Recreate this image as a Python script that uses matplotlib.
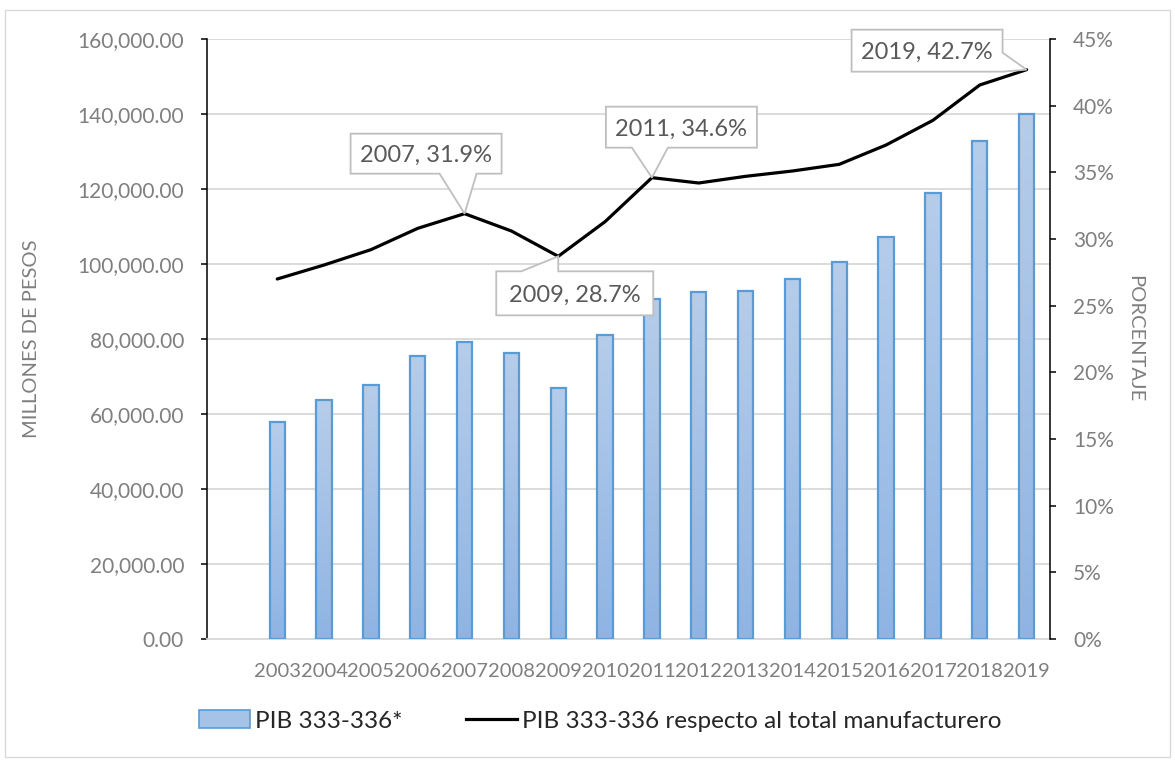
import numpy as np
import matplotlib
matplotlib.use("Agg")
import matplotlib.pyplot as plt
import matplotlib.transforms as mtransforms
from matplotlib.patches import Polygon, Rectangle, Patch
from matplotlib.lines import Line2D
from matplotlib.colors import LinearSegmentedColormap
from matplotlib.ticker import FuncFormatter, MultipleLocator

# ---- data -------------------------------------------------------------
years = ["2003", "2004", "2005", "2006", "2007", "2008", "2009", "2010", "2011",
         "2012", "2013", "2014", "2015", "2016", "2017", "2018", "2019"]
pib_333_336 = [57900, 63700, 67700, 75500, 79200, 76300, 66900, 81100, 90700,
               92500, 92800, 95900, 100600, 107300, 118900, 132800, 139900]
share_pct = [27.0, 28.05, 29.2, 30.8, 31.9, 30.6, 28.7, 31.3, 34.6,
             34.2, 34.7, 35.1, 35.6, 37.05, 38.9, 41.55, 42.7]
callout_years = ["2007", "2009", "2011", "2019"]

bar_label = "PIB 333-336*"
line_label = "PIB 333-336 respecto al total manufacturero"
left_title = "MILLONES DE PESOS"
right_title = "PORCENTAJE"

# ---- style ------------------------------------------------------------
plt.rcParams["font.family"] = ["Lato", "DejaVu Sans"]
GRAY_TXT = "#7f7f7f"
GRID = "#d9d9d9"
BAR_EDGE = "#5b9bd5"

W, H = 1175, 762
fig = plt.figure(figsize=(W / 100, H / 100), dpi=100)
ax = fig.add_axes([207 / W, 1 - 639 / H, 843 / W, 600 / H])
ax2 = ax.twinx()

# category slots: one empty slot before the first year
x = np.arange(1, len(years) + 1)

# ---- bars with vertical gradient fill --------------------------------
bars = ax.bar(x, pib_333_336, width=0.33, facecolor="none",
              edgecolor=BAR_EDGE, linewidth=1.6, zorder=3)
fill_cmap = LinearSegmentedColormap.from_list("barfill", ["#8fb4e3", "#b6cdea"])
grad = np.linspace(0, 1, 256).reshape(-1, 1)
for b in bars:
    x0, y0, bw, bh = b.get_x(), b.get_y(), b.get_width(), b.get_height()
    im = ax.imshow(grad, cmap=fill_cmap, origin="lower", aspect="auto",
                   extent=(x0, x0 + bw, y0, y0 + bh), zorder=2,
                   interpolation="bilinear")
    im.set_clip_path(b)

# ---- share line -------------------------------------------------------
ax2.plot(x, share_pct, color="black", linewidth=2.3, zorder=4,
         solid_joinstyle="round", solid_capstyle="round")

# ---- axes -------------------------------------------------------------
ax.set_xlim(-0.5, len(years) + 0.5)
ax.set_ylim(0, 160000)
ax2.set_ylim(0, 45)
ax.set_xticks(x)
ax.set_xticklabels(years)
ax.yaxis.set_major_locator(MultipleLocator(20000))
ax2.yaxis.set_major_locator(MultipleLocator(5))
ax.yaxis.set_major_formatter(FuncFormatter(lambda v, p: f"{v:,.2f}"))
ax2.yaxis.set_major_formatter(FuncFormatter(lambda v, p: f"{v:.0f}%"))

ax.grid(axis="y", color=GRID, linewidth=1.3)
ax.set_axisbelow(True)

for s in ("top", "right"):
    ax.spines[s].set_visible(False)
ax.spines["left"].set_color("black")
ax.spines["left"].set_linewidth(1.1)
ax.spines["bottom"].set_color(GRID)
ax.spines["bottom"].set_linewidth(1.3)
for s in ("top", "left", "bottom"):
    ax2.spines[s].set_visible(False)
ax2.spines["right"].set_color("black")
ax2.spines["right"].set_linewidth(1.1)

ax.tick_params(axis="y", direction="out", length=4.5, width=1.1, color="black",
               labelcolor=GRAY_TXT, labelsize=15, pad=12)
ax2.tick_params(axis="y", direction="out", length=4.5, width=1.1, color="black",
                labelcolor=GRAY_TXT, labelsize=15, pad=12)
ax.tick_params(axis="x", length=0, labelcolor=GRAY_TXT, labelsize=14.5, pad=17)

fig.text(32 / W, 1 - 339 / H, left_title, rotation=90, ha="center", va="center",
         fontsize=14.5, color=GRAY_TXT)
fig.text(1135 / W, 1 - 339 / H, right_title, rotation=270, ha="center",
         va="center", fontsize=14.5, color=GRAY_TXT)

# ---- callouts (geometry in pixel offsets from the data point) ---------
callout_shapes = {
    "2007": dict(box=(-114, 37, 40, 80), side="bottom", base=(-25, 12)),
    "2009": dict(box=(-62, 95, -59, -15), side="top", base=(-37, 0)),
    "2011": dict(box=(-46, 105, 30, 71), side="bottom", base=(-20, 16)),
    "2019": dict(box=(-175, -24, -2, 40), side="right", base=(-2, 17)),
}


def callout_vertices(box, side, base):
    l, r, b, t = box
    a, c = base
    if side == "bottom":
        return [(l, t), (r, t), (r, b), (c, b), (0, 0), (a, b), (l, b)]
    if side == "top":
        return [(l, t), (a, t), (0, 0), (c, t), (r, t), (r, b), (l, b)]
    return [(l, t), (r, t), (r, c), (0, 0), (r, a), (r, b), (l, b)]


for yr in callout_years:
    i = years.index(yr)
    xi, yi = x[i], share_pct[i]
    shape = callout_shapes[yr]
    trans = (mtransforms.Affine2D().scale(fig.dpi / 100.0)
             + mtransforms.ScaledTranslation(xi, yi, ax2.transData))
    poly = Polygon(callout_vertices(**shape), closed=True, transform=trans,
                   facecolor="white", edgecolor="#bfbfbf", linewidth=1.3,
                   zorder=5, clip_on=False)
    ax2.add_patch(poly)
    l, r, b, t = shape["box"]
    ax2.annotate(f"{yr}, {yi:.1f}%", xy=(xi, yi), xytext=((l + r) / 2, (b + t) / 2),
                 textcoords="offset pixels", ha="center", va="center_baseline",
                 fontsize=17, color="#595959", zorder=6, annotation_clip=False)

# ---- legend -----------------------------------------------------------
handles = [Patch(facecolor="#a5c2e7", edgecolor=BAR_EDGE, linewidth=1.2),
           Line2D([], [], color="black", linewidth=2.3)]
fig.legend(handles, [bar_label, line_label], loc="center",
           bbox_to_anchor=(0.511, 1 - 721 / H), ncol=2, frameon=False,
           fontsize=17.5, handlelength=2.1, handleheight=0.7, handletextpad=0.2,
           columnspacing=2.6, labelcolor="#262626")

# ---- chart border -----------------------------------------------------
fig.add_artist(Rectangle((5 / W, 1 - 757 / H), (1170 - 5) / W, (757 - 10) / H,
                         transform=fig.transFigure, fill=False,
                         edgecolor=GRID, linewidth=1.0))

fig.savefig("out.png", dpi=100)
